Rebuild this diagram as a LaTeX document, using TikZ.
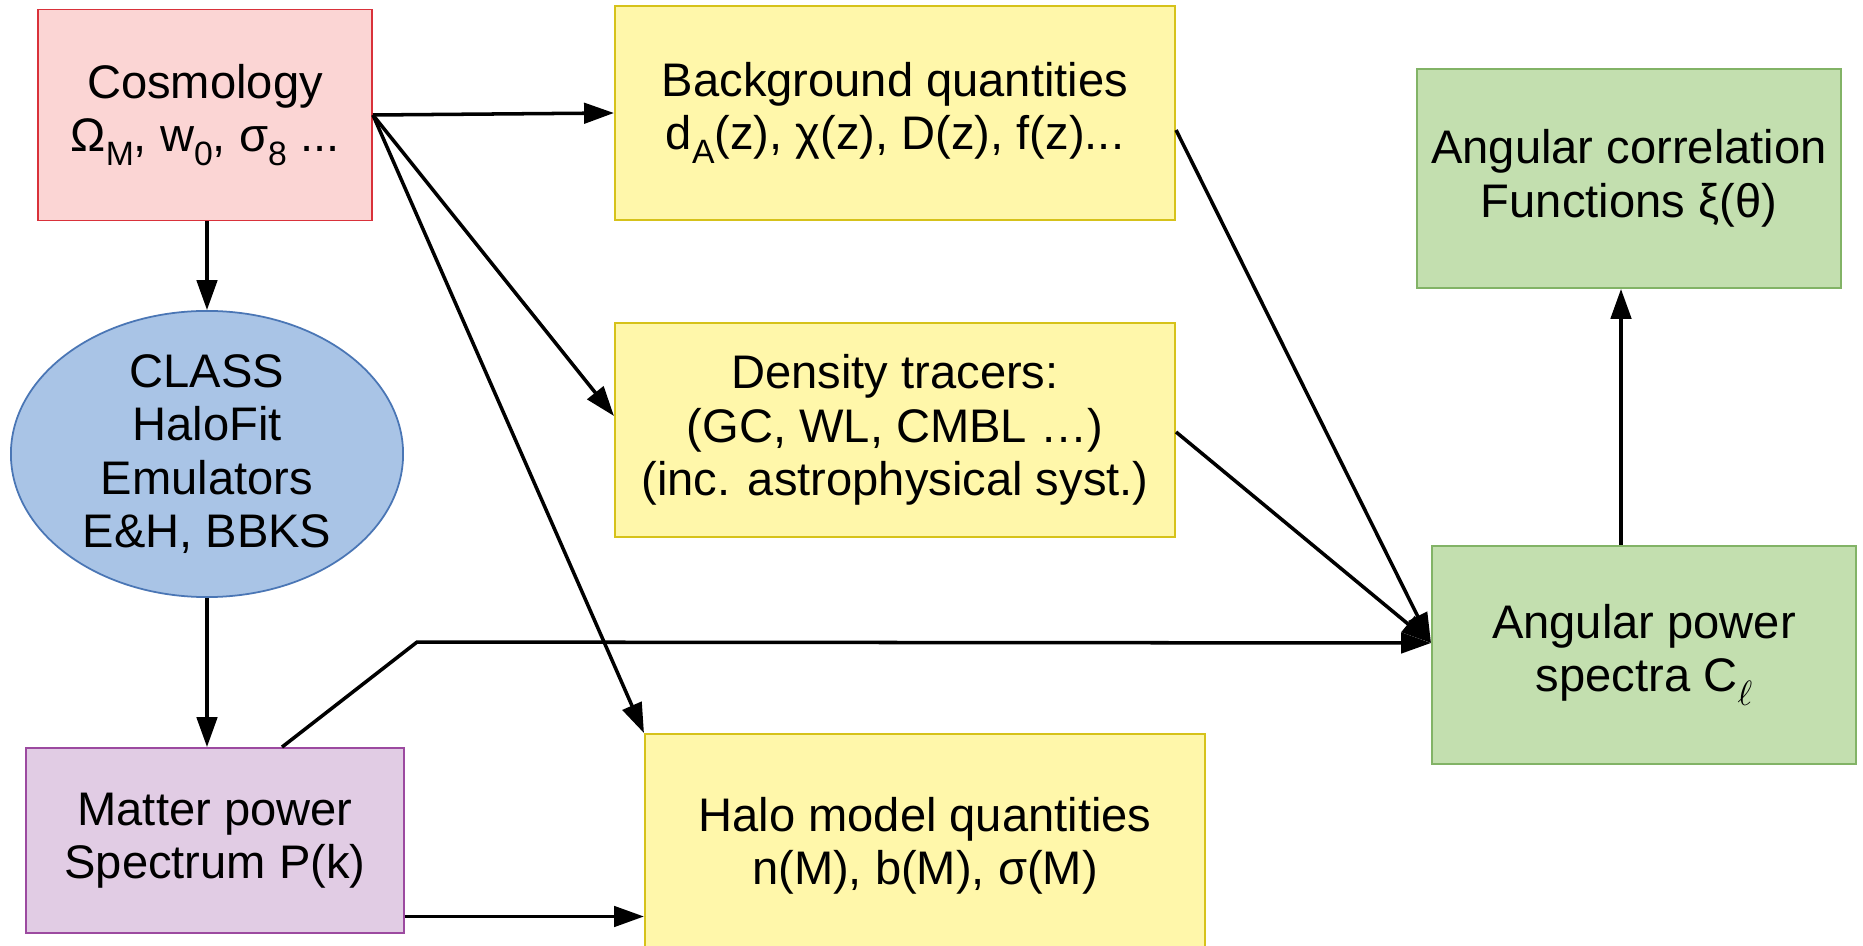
\documentclass[tikz,border=0pt]{standalone}
\usepackage{fontspec}
\setmainfont{Liberation Sans}
\usetikzlibrary{arrows.meta,shapes.geometric,calc}

\definecolor{cosmofill}{HTML}{FBD5D4}
\definecolor{cosmoline}{HTML}{D9313A}
\definecolor{yelfill}{HTML}{FFF7AA}
\definecolor{yelline}{HTML}{D6C21A}
\definecolor{grnfill}{HTML}{C3DFAF}
\definecolor{grnline}{HTML}{82B366}
\definecolor{blufill}{HTML}{A9C4E6}
\definecolor{bluline}{HTML}{4A76B5}
\definecolor{purfill}{HTML}{E1CCE4}
\definecolor{purline}{HTML}{9C4AA0}

% subscripts set low and fairly large
\newcommand\lowsub[1]{\raisebox{-4pt}{\fontsize{9.6pt}{10pt}\selectfont #1}}

\tikzset{
  box/.style={rectangle, draw, line width=0.5pt, inner sep=0pt, align=center,
    font=\fontsize{13.4pt}{15.2pt}\selectfont},
  cosmobox/.style={box, fill=cosmofill, draw=cosmoline},
  yelbox/.style={box, fill=yelfill, draw=yelline},
  grnbox/.style={box, fill=grnfill, draw=grnline},
  purbox/.style={box, fill=purfill, draw=purline},
  codebox/.style={ellipse, draw=bluline, fill=blufill, line width=0.5pt, inner sep=0pt,
    align=center, font=\fontsize{13.4pt}{15.2pt}\selectfont},
  arr/.style={line width=1pt, -{Triangle[length=8.5pt,width=5.8pt]}}
}

\begin{document}
\begin{tikzpicture}[x=0.01cm, y=-0.01cm]
\useasboundingbox (0,0) rectangle (1863,946);
\clip (0,0) rectangle (1863,946);
\fill[white] (0,0) rectangle (1863,946);

% boxes
\node[cosmobox, minimum width=3.34cm, minimum height=2.11cm] (cosmo) at (205,115)
  {Cosmology\\ Ω\lowsub{M}, w\lowsub{0}, σ\lowsub{8} ...};
\node[yelbox, minimum width=5.60cm, minimum height=2.14cm] (bg) at (895,113)
  {Background quantities\\ d\lowsub{A}(z), χ(z), D(z), f(z)...};
\node[yelbox, minimum width=5.60cm, minimum height=2.14cm] (dens) at (895,430)
  {Density tracers:\\ (GC, WL, CMBL …)\\ (inc. astrophysical syst.)};
\node[yelbox, minimum width=5.60cm, minimum height=2.24cm] (halo) at (925,846)
  {Halo model quantities\\ n(M), b(M), σ(M)};
\node[grnbox, minimum width=4.24cm, minimum height=2.19cm] (corr) at (1629,178.5)
  {Angular correlation\\ Functions ξ(θ)};
\node[grnbox, minimum width=4.24cm, minimum height=2.18cm] (ap) at (1644,655)
  {Angular power\\ spectra C\lowsub{$\ell$}};
\node[codebox, minimum width=3.92cm, minimum height=2.86cm] (codes) at (207,454)
  {CLASS\\ HaloFit\\ Emulators\\ E\&H, BBKS};
\node[purbox, minimum width=3.78cm, minimum height=1.85cm] (mp) at (215,840.5)
  {Matter power\\ Spectrum P(k)};

% connection points
\coordinate (densin) at ($(dens.west)+(0,-14)$);
\coordinate (apin) at ($(ap.west)+(0,-12)$);
\coordinate (bgout) at ($(bg.east)+(0,17)$);
\coordinate (densout) at ($(dens.east)+(0,2)$);
\coordinate (mpup) at ($(mp.north west)+(257,0)$);
\coordinate (bend) at ($(mp.north west)+(392,-105)$);
\coordinate (mpout) at ($(mp.east)+(0,76)$);
\coordinate (apup) at ($(ap.north)+(-23,0)$);

% connectors
\draw[arr] (cosmo.east) -- (bg.west);
\draw[arr] (cosmo.east) -- (densin);
\draw[arr] (cosmo.east) -- (halo.north west);
\draw[arr] (codes.north |- cosmo.south) -- (codes.north);
\draw[arr] (codes.south) -- (codes.south |- mp.north);
\draw[arr] (mpup) -- (bend) -- (apin);
\draw[arr] (mpout) -- (halo.west |- mpout);
\draw[arr] (bgout) -- (apin);
\draw[arr] (densout) -- (apin);
\draw[arr] (apup) -- (apup |- corr.south);
\end{tikzpicture}
\end{document}
